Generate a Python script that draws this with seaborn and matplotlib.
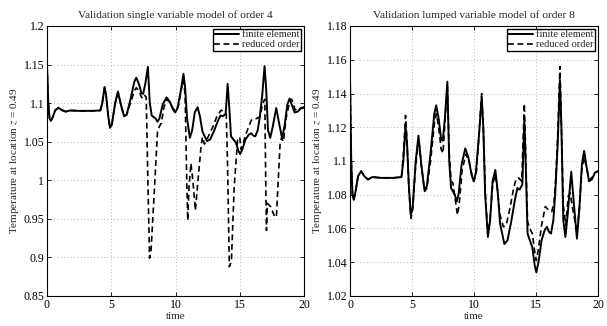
import numpy as np
import pandas as pd
import matplotlib
matplotlib.use("Agg")
import matplotlib.pyplot as plt
import seaborn as sns

# ---------------- data ----------------
t_fe = [0.0, 0.1, 0.2, 0.3, 0.45, 0.65, 0.9, 1.15, 1.45, 1.8, 2.5, 3.5, 4.15, 4.3, 4.48, 4.6, 4.75, 4.9,
        5.05, 5.3, 5.52, 5.75, 6.0, 6.2, 6.5, 6.8, 6.95, 7.15, 7.35, 7.48, 7.65, 7.85, 8.0, 8.15, 8.3,
        8.45, 8.6, 8.75, 9.0, 9.3, 9.55, 9.8, 9.97, 10.15, 10.4, 10.62, 10.75, 10.9, 11.12, 11.3, 11.5,
        11.72, 11.9, 12.1, 12.45, 12.7, 13.0, 13.3, 13.5, 13.67, 13.9, 14.06, 14.2, 14.32, 14.5, 14.7,
        14.9, 15.03, 15.2, 15.45, 15.7, 15.88, 16.05, 16.21, 16.4, 16.55, 16.75, 16.93, 17.05, 17.2,
        17.37, 17.55, 17.84, 18.05, 18.3, 18.5, 18.7, 18.88, 19.05, 19.27, 19.5, 19.75, 20.0]
v_fe = [1.15, 1.10, 1.08, 1.077, 1.082, 1.091, 1.094, 1.091, 1.089, 1.0905, 1.090, 1.090, 1.0905, 1.100,
        1.121, 1.11, 1.085, 1.068, 1.072, 1.100, 1.115, 1.098, 1.083, 1.085, 1.105, 1.128, 1.133, 1.125,
        1.113, 1.112, 1.125, 1.147, 1.10, 1.084, 1.082, 1.080, 1.076, 1.08, 1.098, 1.1075, 1.102, 1.092,
        1.088, 1.093, 1.115, 1.138, 1.12, 1.08, 1.055, 1.065, 1.088, 1.0947, 1.083, 1.063, 1.0508, 1.053,
        1.064, 1.077, 1.084, 1.083, 1.086, 1.125, 1.09, 1.057, 1.053, 1.049, 1.038, 1.034, 1.040, 1.053,
        1.059, 1.061, 1.058, 1.057, 1.065, 1.081, 1.11, 1.148, 1.12, 1.065, 1.055, 1.068, 1.0937, 1.075,
        1.054, 1.072, 1.098, 1.106, 1.098, 1.088, 1.089, 1.093, 1.094]

t_r4 = [0.0, 0.1, 0.2, 0.3, 0.45, 0.65, 0.9, 1.15, 1.45, 1.8, 2.5, 3.5, 4.15, 4.3, 4.48, 4.6, 4.75, 4.9,
        5.05, 5.3, 5.55, 5.75, 6.0, 6.2, 6.5, 6.8, 6.95, 7.15, 7.35, 7.45, 7.6, 7.72, 7.85, 7.98, 8.1,
        8.37, 8.6, 8.75, 8.9, 9.1, 9.35, 9.6, 9.85, 10.05, 10.25, 10.45, 10.62, 10.75, 10.85, 10.95,
        11.05, 11.2, 11.35, 11.55, 11.75, 11.99, 12.1, 12.25, 12.5, 12.9, 13.2, 13.54, 13.8, 13.95,
        14.05, 14.19, 14.35, 14.57, 14.83, 15.0, 15.1, 15.3, 15.55, 15.9, 16.3, 16.55, 16.8, 16.95,
        17.02, 17.08, 17.15, 17.4, 17.66, 17.85, 18.14, 18.25, 18.4, 18.6, 18.9, 19.05, 19.3, 19.5,
        19.75, 20.0]
v_r4 = [1.15, 1.10, 1.08, 1.077, 1.082, 1.091, 1.094, 1.091, 1.089, 1.0905, 1.09, 1.09, 1.0905, 1.100,
        1.120, 1.11, 1.086, 1.069, 1.073, 1.099, 1.113, 1.097, 1.083, 1.085, 1.100, 1.116, 1.120, 1.116,
        1.108, 1.106, 1.110, 1.108, 1.00, 0.899, 0.91, 0.992, 1.063, 1.070, 1.074, 1.095, 1.105, 1.100,
        1.092, 1.090, 1.098, 1.118, 1.130, 1.11, 1.02, 0.948, 0.99, 1.022, 1.00, 0.961, 1.00, 1.044,
        1.056, 1.047, 1.055, 1.069, 1.082, 1.091, 1.088, 1.086, 1.02, 0.888, 0.895, 0.992, 1.052, 1.056,
        1.040, 1.05, 1.063, 1.078, 1.08, 1.082, 1.10, 1.105, 1.00, 0.935, 0.97, 0.966, 0.955, 0.952,
        1.048, 1.055, 1.050, 1.08, 1.103, 1.105, 1.092, 1.090, 1.094, 1.095]

t_r8 = [0.0, 0.1, 0.2, 0.3, 0.45, 0.65, 0.9, 1.15, 1.45, 1.8, 2.5, 3.5, 4.15, 4.3, 4.48, 4.6, 4.75, 4.92,
        5.05, 5.3, 5.55, 5.75, 6.02, 6.2, 6.5, 6.8, 6.97, 7.15, 7.35, 7.5, 7.65, 7.85, 8.0, 8.15, 8.3,
        8.45, 8.67, 8.8, 9.05, 9.35, 9.6, 9.85, 10.0, 10.2, 10.4, 10.62, 10.75, 10.92, 11.12, 11.3, 11.5,
        11.72, 11.9, 12.1, 12.37, 12.6, 12.9, 13.2, 13.41, 13.6, 13.85, 14.06, 14.2, 14.32, 14.5, 14.7,
        14.9, 15.03, 15.2, 15.45, 15.75, 16.0, 16.27, 16.45, 16.6, 16.75, 16.93, 17.05, 17.2, 17.4, 17.6,
        17.75, 18.0, 18.3, 18.5, 18.7, 18.88, 19.05, 19.27, 19.5, 19.75, 20.0]
v_r8 = [1.15, 1.10, 1.08, 1.077, 1.082, 1.091, 1.094, 1.091, 1.089, 1.0905, 1.09, 1.09, 1.0905, 1.103,
        1.127, 1.112, 1.083, 1.066, 1.071, 1.098, 1.113, 1.097, 1.082, 1.084, 1.100, 1.122, 1.128, 1.120,
        1.107, 1.1046, 1.122, 1.145, 1.105, 1.088, 1.087, 1.079, 1.068, 1.074, 1.095, 1.104, 1.100, 1.091,
        1.088, 1.094, 1.115, 1.140, 1.12, 1.08, 1.056, 1.066, 1.086, 1.092, 1.082, 1.068, 1.061, 1.062,
        1.072, 1.084, 1.0897, 1.090, 1.088, 1.134, 1.095, 1.064, 1.060, 1.057, 1.046, 1.041, 1.048, 1.062,
        1.073, 1.071, 1.070, 1.075, 1.090, 1.115, 1.156, 1.12, 1.074, 1.062, 1.079, 1.081, 1.070, 1.0575,
        1.072, 1.095, 1.102, 1.097, 1.089, 1.090, 1.093, 1.094]

titles = ["Validation single variable model of order 4", "Validation lumped variable model of order 8"]
xlabel = "time"
ylabel = r"Temperature at location $z$ = 0.49"
legend_labels = ["finite element", "reduced order"]
x_ticks = [0, 5, 10, 15, 20]
y_ticks_left = [0.85, 0.9, 0.95, 1.0, 1.05, 1.1, 1.15, 1.2]
y_ticklabels_left = ["0.85", "0.9", "0.95", "1", "1.05", "1.1", "1.15", "1.2"]
y_ticks_right = [1.02, 1.04, 1.06, 1.08, 1.1, 1.12, 1.14, 1.16, 1.18]
y_ticklabels_right = ["1.02", "1.04", "1.06", "1.08", "1.1", "1.12", "1.14", "1.16", "1.18"]

# ---------------- style ----------------
sns.set_style("ticks")
plt.rcParams["font.family"] = ["Liberation Serif", "DejaVu Serif"]
plt.rcParams["mathtext.fontset"] = "stix"
plt.rcParams["axes.edgecolor"] = "black"
plt.rcParams["axes.linewidth"] = 0.8

fig = plt.figure(figsize=(6.07, 3.26), dpi=100)
axL = fig.add_axes([47 / 607, 1 - 296 / 326, (304 - 47) / 607, 270 / 326])
axR = fig.add_axes([350 / 607, 1 - 296 / 326, (598 - 350) / 607, 270 / 326])

panels = [
    (axL, t_r4, v_r4, (0.85, 1.2), y_ticks_left, y_ticklabels_left, titles[0]),
    (axR, t_r8, v_r8, (1.02, 1.18), y_ticks_right, y_ticklabels_right, titles[1]),
]

for ax, tr, vr, ylim, yt, ytl, title in panels:
    df_fe = pd.DataFrame({"t": t_fe, "v": v_fe})
    df_r = pd.DataFrame({"t": tr, "v": vr})
    sns.lineplot(data=df_fe, x="t", y="v", ax=ax, color="black", lw=1.4,
                 label=legend_labels[0], sort=False)
    sns.lineplot(data=df_r, x="t", y="v", ax=ax, color="black", lw=1.2,
                 linestyle=(0, (3.5, 2.2)), label=legend_labels[1], sort=False)
    ax.set_xlim(0, 20)
    ax.set_ylim(*ylim)
    ax.set_xticks(x_ticks)
    ax.set_xticklabels([str(x) for x in x_ticks])
    ax.set_yticks(yt)
    ax.set_yticklabels(ytl)
    ax.tick_params(direction="in", length=3, width=0.6, labelsize=8.5, pad=2,
                   top=True, right=True, colors="black")
    ax.grid(True, linestyle=(0, (1, 3)), color="#a0a0a0", lw=0.6)
    for s in ax.spines.values():
        s.set_visible(True)
        s.set_color("black")
        s.set_linewidth(0.8)
    ax.set_xlabel(xlabel, fontsize=8, labelpad=1)
    ax.set_ylabel(ylabel, fontsize=8, labelpad=2)
    ax.set_title(title, fontsize=8.2, pad=6)
    leg = ax.legend(loc="upper right", fontsize=7.5, frameon=True, fancybox=False,
                    borderpad=0.15, handlelength=2.4, handletextpad=0.3,
                    labelspacing=0.05, borderaxespad=0.25)
    leg.get_frame().set_edgecolor("black")
    leg.get_frame().set_linewidth(1.0)
    leg.get_frame().set_alpha(1.0)

fig.savefig("out.png", dpi=100)
